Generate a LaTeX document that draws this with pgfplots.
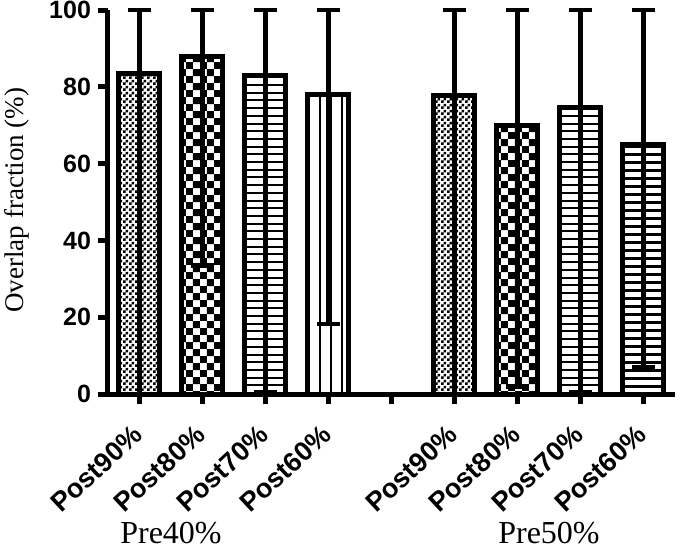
\documentclass[border=0pt]{standalone}
\usepackage{fontspec}
\setmainfont{Liberation Serif}
\setsansfont{Liberation Sans}
\usepackage{pgfplots}
\pgfplotsset{compat=1.18}
\usetikzlibrary{patterns}

\pgfdeclarepatternformonly{finecheck}{\pgfpointorigin}{\pgfqpoint{2.8pt}{2.8pt}}{\pgfqpoint{2.8pt}{2.8pt}}{%
  \pgfpathrectangle{\pgfpointorigin}{\pgfqpoint{1.4pt}{1.4pt}}%
  \pgfpathrectangle{\pgfqpoint{1.4pt}{1.4pt}}{\pgfqpoint{1.4pt}{1.4pt}}%
  \pgfusepath{fill}}
\pgfdeclarepatternformonly{coarsecheck}{\pgfpointorigin}{\pgfqpoint{7.2pt}{7.2pt}}{\pgfqpoint{7.2pt}{7.2pt}}{%
  \pgfpathrectangle{\pgfpointorigin}{\pgfqpoint{3.6pt}{3.6pt}}%
  \pgfpathrectangle{\pgfqpoint{3.6pt}{3.6pt}}{\pgfqpoint{3.6pt}{3.6pt}}%
  \pgfusepath{fill}}
\pgfdeclarepatternformonly{hlinesA}{\pgfqpoint{-1pt}{-1pt}}{\pgfqpoint{100pt}{3pt}}{\pgfqpoint{100pt}{3.85pt}}{%
  \pgfsetlinewidth{1pt}%
  \pgfpathmoveto{\pgfqpoint{-1pt}{0.5pt}}\pgfpathlineto{\pgfqpoint{100pt}{0.5pt}}%
  \pgfusepath{stroke}}
\pgfdeclarepatternformonly{hlinesB}{\pgfqpoint{-1pt}{-1pt}}{\pgfqpoint{100pt}{3pt}}{\pgfqpoint{100pt}{4pt}}{%
  \pgfsetlinewidth{1.4pt}%
  \pgfpathmoveto{\pgfqpoint{-1pt}{0.7pt}}\pgfpathlineto{\pgfqpoint{100pt}{0.7pt}}%
  \pgfusepath{stroke}}
\pgfdeclarepatternformonly{vlinesA}{\pgfqpoint{-1pt}{-1pt}}{\pgfqpoint{3pt}{100pt}}{\pgfqpoint{5.5pt}{100pt}}{%
  \pgfsetlinewidth{0.8pt}%
  \pgfpathmoveto{\pgfqpoint{0.4pt}{-1pt}}\pgfpathlineto{\pgfqpoint{0.4pt}{100pt}}%
  \pgfusepath{stroke}}

\begin{document}
\begin{tikzpicture}
\useasboundingbox (-54pt,-77pt) rectangle (288.5pt,197pt);
\begin{axis}[
  at={(0pt,0pt)}, anchor=south west,
  scale only axis, width=283.5pt, height=192pt,
  xmin=-0.5, xmax=8.5, ymin=0, ymax=100,
  axis lines*=left,
  axis line style={line width=2.5pt},
  xtick={0,1,2,3,4,5,6,7,8},
  xticklabels={Post90\%,Post80\%,Post70\%,Post60\%,,Post90\%,Post80\%,Post70\%,Post60\%},
  ytick={0,20,40,60,80,100},
  tick align=outside, major tick length=5pt,
  tick style={line width=2.5pt, black},
  xticklabel style={rotate=43, anchor=north east, inner sep=0pt, xshift=-9.5pt, yshift=-4pt, font=\sffamily\bfseries\fontsize{13.5}{13.5}\selectfont},
  yticklabel style={font=\sffamily\bfseries\fontsize{12.5}{12.5}\selectfont},
  /pgf/number format/assume math mode=true,
  ylabel={Overlap fraction (\%)},
  ylabel style={font=\fontsize{13.5}{13.5}\selectfont, inner sep=0pt, at={(axis description cs:-0.1605,0.505)}, anchor=center},
  clip=false,
  ybar, bar width=20.5pt,
  every axis plot/.append style={bar shift=0pt, draw=black, line width=2.5pt,
    error bars/y dir=both, error bars/y explicit,
    error bars/error bar style={line width=2.3pt, black},
    error bars/error mark options={rotate=90, mark size=5.75pt, line width=2.3pt, black}},
]
\addplot[pattern=finecheck] coordinates {(0,83.5) += (0,16.5) -= (0,83.5)
  (5,77.7) += (0,22.3) -= (0,77.7)};
\addplot[pattern=coarsecheck] coordinates {(1,88) += (0,12) -= (0,54.5)
  (6,70) += (0,30) -= (0,68)};
\addplot[pattern=hlinesA] coordinates {(2,83) += (0,17) -= (0,82.5)
  (7,74.5) += (0,25.5) -= (0,74)};
\addplot[pattern=vlinesA] coordinates {(3,78) += (0,22) -= (0,59.8)};
\addplot[pattern=hlinesB] coordinates {(8,65) += (0,35) -= (0,58)};
\node[font=\fontsize{16}{16}\selectfont, anchor=base, inner sep=0pt] at (axis cs:0.5,-38.8) {Pre40\%};
\node[font=\fontsize{16}{16}\selectfont, anchor=base, inner sep=0pt] at (axis cs:6.5,-38.8) {Pre50\%};
\end{axis}
\end{tikzpicture}
\end{document}
